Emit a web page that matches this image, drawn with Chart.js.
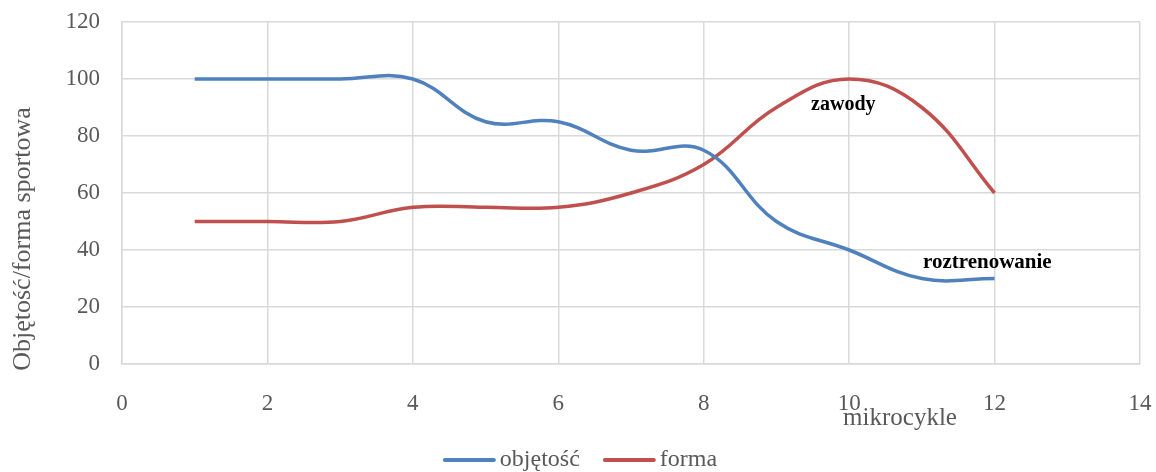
<!DOCTYPE html>
<html>
<head>
<meta charset="utf-8">
<script src="https://cdn.jsdelivr.net/npm/chart.js@4"></script>
<style>
  html, body { margin: 0; padding: 0; background: #fff; }
  #wrap { width: 1156px; height: 472px; }
</style>
</head>
<body>
<div id="wrap"><canvas id="chart" width="1156" height="472"></canvas></div>
<script>
// data
const mikrocykle = [1, 2, 3, 4, 5, 6, 7, 8, 9, 10, 11, 12];
const objetosc = [100, 100, 100, 100, 85, 85, 75, 75, 50, 40, 30, 30];
const forma = [50, 50, 50, 55, 55, 55, 60, 70, 90, 100, 90, 60];

const xTicks = [0, 2, 4, 6, 8, 10, 12, 14];
const yTicks = [0, 20, 40, 60, 80, 100, 120];

// text notes placed in data coordinates
const noteLabels = ['zawody', 'roztrenowanie'];
const noteX = [9.92, 11.9];
const noteY = [91, 35.5];

const xTitle = 'mikrocykle';
const yTitle = 'Objętość/forma sportowa';

const FONT = "'Liberation Serif', 'Times New Roman', serif";
const GREY = '#595959';

function pts(xs, ys) {
    return xs.map((x, i) => ({ x: x, y: ys[i] }));
}

const notesPlugin = {
    id: 'notes',
    afterDatasetsDraw(chart) {
        const ctx = chart.ctx;
        const xs = chart.scales.x, ys = chart.scales.y;
        ctx.save();
        ctx.fillStyle = '#000';
        ctx.textAlign = 'center';
        ctx.textBaseline = 'middle';
        ctx.font = 'bold 20px ' + FONT;
        ctx.fillText(noteLabels[0], xs.getPixelForValue(noteX[0]), ys.getPixelForValue(noteY[0]));
        ctx.font = 'bold 21px ' + FONT;
        ctx.fillText(noteLabels[1], xs.getPixelForValue(noteX[1]), ys.getPixelForValue(noteY[1]));

        // axis titles are off-centre in the original, so draw them by hand
        ctx.fillStyle = GREY;
        ctx.font = '25px ' + FONT;
        ctx.fillText(xTitle, xs.getPixelForValue(10.7), xs.top + 54);

        ctx.save();
        ctx.translate(23, 239);
        ctx.rotate(-Math.PI / 2);
        ctx.font = '26px ' + FONT;
        ctx.fillText(yTitle, 0, 0);
        ctx.restore();

        // legend: short line then label, small gap
        ctx.font = '24px ' + FONT;
        ctx.textAlign = 'left';
        const lineW = 53, gap = 4, between = 23;
        const items = chart.data.datasets.map(d => ({ d: d, w: ctx.measureText(d.label).width }));
        const total = items.reduce((s, it) => s + lineW + gap + it.w, 0) + between * (items.length - 1);
        let x = (chart.width - total) / 2 + 2;
        const y = 460;
        items.forEach(it => {
            ctx.strokeStyle = it.d.borderColor;
            ctx.lineWidth = 4;
            ctx.lineCap = 'round';
            ctx.beginPath();
            ctx.moveTo(x + 2, y);
            ctx.lineTo(x + lineW - 2, y);
            ctx.stroke();
            x += lineW + gap;
            ctx.fillStyle = GREY;
            ctx.fillText(it.d.label, x, y);
            x += it.w + between;
        });
        ctx.restore();
    }
};

new Chart(document.getElementById('chart'), {
    type: 'scatter',
    data: {
        datasets: [
            {
                label: 'objętość',
                data: pts(mikrocykle, objetosc),
                showLine: true,
                borderColor: '#4f81bd',
                backgroundColor: '#4f81bd',
                borderWidth: 3.5,
                pointRadius: 0,
                tension: 0.4
            },
            {
                label: 'forma',
                data: pts(mikrocykle, forma),
                showLine: true,
                borderColor: '#c0504d',
                backgroundColor: '#c0504d',
                borderWidth: 3.5,
                pointRadius: 0,
                tension: 0.4
            }
        ]
    },
    options: {
        responsive: false,
        animation: false,
        layout: { padding: 0 },
        plugins: {
            legend: { display: false },
            tooltip: { enabled: false }
        },
        scales: {
            x: {
                type: 'linear',
                min: 0,
                max: 14,
                afterBuildTicks(axis) { axis.ticks = xTicks.map(v => ({ value: v })); },
                afterFit(axis) {
                    axis.height = 108;
                    axis.paddingLeft = 0;
                    axis.paddingRight = 16;
                },
                grid: { color: '#d9d9d9', lineWidth: 1.5, drawTicks: false },
                border: { color: '#d9d9d9', width: 1.5 },
                ticks: { color: GREY, padding: 26, font: { family: FONT, size: 23 } }
            },
            y: {
                min: 0,
                max: 120,
                afterBuildTicks(axis) { axis.ticks = yTicks.map(v => ({ value: v })); },
                afterFit(axis) {
                    axis.width = 122;
                    axis.paddingTop = 22;
                    axis.paddingBottom = 0;
                },
                grid: { color: '#d9d9d9', lineWidth: 1.5, drawTicks: false },
                border: { color: '#d9d9d9', width: 1.5 },
                ticks: { color: GREY, padding: 22, font: { family: FONT, size: 23 } }
            }
        }
    },
    plugins: [notesPlugin]
});
</script>
</body>
</html>
